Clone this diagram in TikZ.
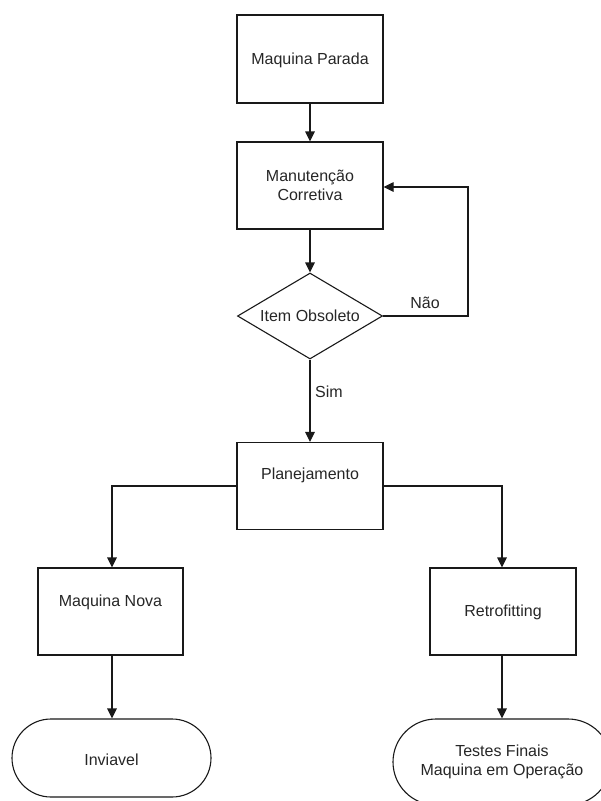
\documentclass[tikz,border=0pt]{standalone}
\usepackage{fontspec}
\setmainfont{Liberation Sans}
\usetikzlibrary{shapes.geometric,arrows.meta}
\begin{document}
\begin{tikzpicture}[x=1pt,y=-1pt,
  every node/.style={font=\fontsize{16}{19}\selectfont, text=black!85},
  procbox/.style={draw=black!90, line width=1.1pt, rectangle, minimum width=146pt, minimum height=87pt, inner sep=0pt},
  decbox/.style={draw=black!90, line width=1.1pt, diamond, minimum width=145pt, minimum height=86pt, inner sep=0pt},
  termbox/.style={draw=black!90, line width=1.1pt, rectangle, rounded corners=39pt, inner sep=0pt},
  txt/.style={inner sep=0pt, align=center},
  conn/.style={draw=black!90, line width=1.1pt, -{Triangle[length=10pt,width=9.5pt]}}
]
\useasboundingbox (0,0) rectangle (601,801);
\clip (0,0) rectangle (601,801);
% nodes
\node[procbox, minimum height=88pt] (mp) at (310,59) {};
\node[txt] (tmp) at (310,60) {Maquina Parada};
\node[procbox] (mc) at (310,185.5) {};
\node[txt] (tmc) at (310,185) {Manutenção\\Corretiva};
\node[decbox] (io) at (310,316) {};
\node[txt] (tio) at (310,316) {Item Obsoleto};
\node[procbox] (pl) at (310,486) {};
\node[txt] (tpl) at (310,475) {Planejamento};
\node[procbox, minimum width=145pt] (mn) at (110.5,611.5) {};
\node[txt] (tmn) at (110.5,602) {Maquina Nova};
\node[procbox] (rf) at (503,611.5) {};
\node[txt] (trf) at (503,612) {Retrofitting};
\node[termbox, minimum width=199pt, minimum height=78pt] (inv) at (111.5,758) {};
\node[txt] (tinv) at (111.5,760) {Inviavel};
\node[termbox, minimum width=218pt, minimum height=86pt, rounded corners=43pt] (tf) at (502,762) {};
\node[txt] (ttf) at (502,762) {Testes Finais\\Maquina em Operação};
% labels
\node[txt] (lnao) at (425,303) {Não};
\node[txt] (lsim) at (329,392) {Sim};
% coordinates
\coordinate (c1) at (468,316);
\coordinate (c2) at (468,187);
\coordinate (c3) at (112,486);
\coordinate (c4) at (502,486);
% connectors
\draw[conn] (mp.south) -- (mc.north);
\draw[conn] (mc.south) -- (io.north);
\draw[conn] (io.south) -- (pl.north);
\draw[conn] (io.east) -- (c1) -- (c2) -- (mc.east |- c2);
\draw[conn] (pl.west) -- (c3) -- (c3 |- mn.north);
\draw[conn] (pl.east) -- (c4) -- (c4 |- rf.north);
\draw[conn] (mn.south -| c3) -- (c3 |- inv.north);
\draw[conn] (rf.south -| c4) -- (c4 |- tf.north);
\end{tikzpicture}
\end{document}
